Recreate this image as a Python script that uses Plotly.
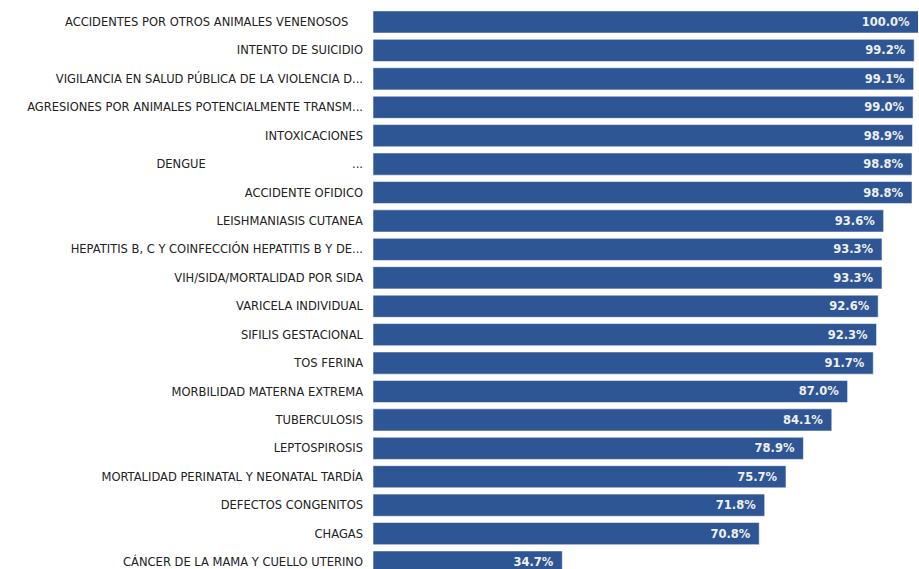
import plotly.graph_objects as go

NB = "\u00a0"
categories = [
    "ACCIDENTES POR OTROS ANIMALES VENENOSOS" + NB * 4,
    "INTENTO DE SUICIDIO",
    "VIGILANCIA EN SALUD PÚBLICA DE LA VIOLENCIA D...",
    "AGRESIONES POR ANIMALES POTENCIALMENTE TRANSM...",
    "INTOXICACIONES",
    "DENGUE" + NB * 40 + "...",
    "ACCIDENTE OFIDICO",
    "LEISHMANIASIS CUTANEA",
    "HEPATITIS B, C Y COINFECCIÓN HEPATITIS B Y DE...",
    "VIH/SIDA/MORTALIDAD POR SIDA",
    "VARICELA INDIVIDUAL",
    "SIFILIS GESTACIONAL",
    "TOS FERINA",
    "MORBILIDAD MATERNA EXTREMA",
    "TUBERCULOSIS",
    "LEPTOSPIROSIS",
    "MORTALIDAD PERINATAL Y NEONATAL TARDÍA",
    "DEFECTOS CONGENITOS",
    "CHAGAS",
    "CÁNCER DE LA MAMA Y CUELLO UTERINO",
]
values = [100.0, 99.2, 99.1, 99.0, 98.9, 98.8, 98.8, 93.6, 93.3, 93.3,
          92.6, 92.3, 91.7, 87.0, 84.1, 78.9, 75.7, 71.8, 70.8, 34.7]

fig = go.Figure(go.Bar(
    x=values,
    y=categories,
    orientation="h",
    marker=dict(color="#2E5594", line=dict(color="rgba(255,255,255,0.55)", width=1)),
    width=0.78,
    text=[f"<b>{v:.1f}%</b>" + NB + "\u2009" for v in values],
    textposition="inside",
    insidetextanchor="end",
    textfont=dict(family="DejaVu Sans", size=11.5, color="#F0F0F0"),
    cliponaxis=True,
))

fig.update_layout(
    width=919,
    height=569,
    margin=dict(l=373, r=1, t=0, b=0),
    paper_bgcolor="white",
    plot_bgcolor="white",
    showlegend=False,
    font=dict(family="DejaVu Sans", size=11.5, color="#222222"),
    xaxis=dict(range=[0, 99.9], visible=False, showgrid=False, zeroline=False),
    yaxis=dict(
        categoryorder="array",
        categoryarray=categories,
        range=[19.245, -0.773],
        showgrid=False,
        zeroline=False,
        showline=False,
        ticks="",
        ticklabelstandoff=9,
        tickfont=dict(family="DejaVu Sans", size=11.5, color="#222222"),
    ),
)

fig.write_html(
    "out.html",
    config={"displayModeBar": False},
    post_script="document.body.style.margin='0';document.body.style.overflow='hidden';",
)
